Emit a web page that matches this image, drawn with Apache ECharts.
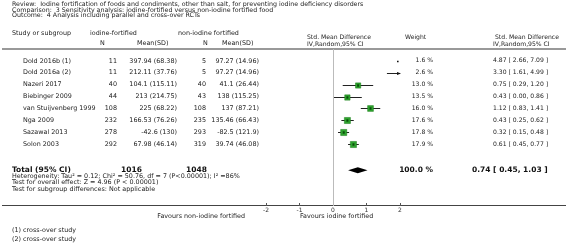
<!DOCTYPE html>
<html>
<head>
<meta charset="utf-8">
<script src="https://cdn.jsdelivr.net/npm/echarts@6/dist/echarts.min.js"></script>
<style>
  html, body { margin: 0; padding: 0; background: #fff; }
  #main { width: 566px; height: 250px; }
</style>
</head>
<body>
<div id="main"></div>
<script>
// studies (row order top to bottom)
const studies = ['Dold 2016b (1)', 'Dold 2016a (2)', 'Nazeri 2017', 'Biebinger 2009',
    'van Stuijvenberg 1999', 'Nga 2009', 'Sazawal 2013', 'Solon 2003'];
const fortN = [11, 11, 40, 44, 108, 232, 278, 292];
const fortMeanSD = ['397.94 (68.38)', '212.11 (37.76)', '104.1 (115.11)', '213 (214.75)',
    '225 (68.22)', '166.53 (76.26)', '-42.6 (130)', '67.98 (46.14)'];
const ctrlN = [5, 5, 40, 43, 108, 235, 293, 319];
const ctrlMeanSD = ['97.27 (14.96)', '97.27 (14.96)', '41.1 (26.44)', '138 (115.25)',
    '137 (87.21)', '135.46 (66.43)', '-82.5 (121.9)', '39.74 (46.08)'];
const weights = [1.6, 2.6, 13.0, 13.5, 16.0, 17.6, 17.8, 17.9];
const smd = [4.87, 3.30, 0.75, 0.43, 1.12, 0.43, 0.32, 0.61];
const ciLow = [2.66, 1.61, 0.29, 0.00, 0.83, 0.25, 0.15, 0.45];
const ciHigh = [7.09, 4.99, 1.20, 0.86, 1.41, 0.62, 0.48, 0.77];

// pooled result
const totalN = [1016, 1048];
const totalWeight = 100.0;
const totalSmd = [0.74, 0.45, 1.03];

const xTicks = [-2, -1, 0, 1, 2];

const totalRow = 9.2;
const font = '"DejaVu Sans", Verdana, sans-serif';
const txt = '#222';
const fs = 6.4;   // left table text
const fsR = 6.1;  // right columns

let chart = echarts.init(document.getElementById('main'));

function fmtCI(e, l, h) {
    return e.toFixed(2) + ' [ ' + l.toFixed(2) + ', ' + h.toFixed(2) + ' ]';
}

// table text for each study row
function renderRowText(params, api) {
    let i = params.dataIndex;
    let y = api.coord([0, i])[1];
    let t = (text, x, align, size) => ({
        type: 'text',
        style: { text: text, x: x, y: y, align: align, verticalAlign: 'middle',
            fontSize: size || fs, fontFamily: font, fill: txt }
    });
    return {
        type: 'group',
        children: [
            t(studies[i], 23, 'left'),
            t(String(fortN[i]), 117, 'right'),
            t(fortMeanSD[i], 177, 'right'),
            t(String(ctrlN[i]), 206, 'right'),
            t(ctrlMeanSD[i], 259, 'right'),
            t(weights[i].toFixed(1) + ' %', 433, 'right', fsR),
            t(fmtCI(smd[i], ciLow[i], ciHigh[i]), 493, 'left', fsR)
        ]
    };
}

function renderTotalText(params, api) {
    let y = api.coord([0, totalRow])[1];
    let t = (text, x, align) => ({
        type: 'text',
        style: { text: text, x: x, y: y, align: align, verticalAlign: 'middle',
            fontSize: 7.5, fontWeight: 'bold', fontFamily: font, fill: '#111' }
    });
    return {
        type: 'group',
        children: [
            t('Total (95% CI)', 12, 'left'),
            t(String(totalN[0]), 121, 'left'),
            t(String(totalN[1]), 186, 'left'),
            t(totalWeight.toFixed(1) + ' %', 433, 'right'),
            t(fmtCI(totalSmd[0], totalSmd[1], totalSmd[2]), 472, 'left')
        ]
    };
}

// CI line + weighted square
function renderStudy(params, api) {
    let est = api.value(0), lo = api.value(1), hi = api.value(2), w = api.value(3), row = api.value(4);
    let xMin = xTicks[0], xMax = xTicks[xTicks.length - 1];
    let y = Math.round(api.coord([0, row])[1]) + 0.5;
    let px = v => api.coord([v, row])[0];
    let children = [];
    if (lo > xMax) {
        children.push({ type: 'rect', shape: { x: px(xMax) - 3, y: y - 0.8, width: 1.6, height: 1.6 },
            style: { fill: '#111' } });
        return { type: 'group', children: children };
    }
    let x1 = px(Math.max(lo, xMin)), x2 = px(Math.min(hi, xMax));
    children.push({ type: 'line', shape: { x1: x1, y1: y, x2: x2, y2: y },
        style: { stroke: '#222', lineWidth: 1 } });
    if (hi > xMax) {
        children.push({ type: 'polygon', shape: { points: [[x2 + 1, y], [x2 - 3, y - 1.6], [x2 - 3, y + 1.6]] },
            style: { fill: '#111' } });
    }
    if (est >= xMin && est <= xMax) {
        let s = Math.sqrt(w) * 1.45;
        let cx = px(est);
        children.push({ type: 'rect', shape: { x: cx - s / 2, y: y - s / 2, width: s, height: s },
            style: { fill: '#2ea32e', stroke: '#1b7d1b', lineWidth: 0.5 } });
        children.push({ type: 'rect', shape: { x: cx - 1, y: y - 1.2, width: 2, height: 2.4 },
            style: { fill: '#0b4d0b' } });
    }
    return { type: 'group', children: children };
}

function renderDiamond(params, api) {
    let row = api.value(3);
    let y = api.coord([0, row])[1];
    let e = api.coord([api.value(0), row])[0];
    let l = api.coord([api.value(1), row])[0];
    let h = api.coord([api.value(2), row])[0];
    return {
        type: 'polygon',
        shape: { points: [[l, y], [e, y - 3], [h, y], [e, y + 3]] },
        style: { fill: '#000' }
    };
}

let studyData = studies.map((s, i) => [smd[i], ciLow[i], ciHigh[i], weights[i], i]);

let g = (text, x, y, size, align) => ({
    type: 'text', x: x, y: y,
    style: { text: text, fontSize: size || fs, fontFamily: font, fill: txt,
        align: align || 'left', verticalAlign: 'middle' }
});

let option = {
    animation: false,
    grid: { left: 266, width: 134, top: 49, height: 157 },
    xAxis: {
        type: 'value', min: xTicks[0], max: xTicks[xTicks.length - 1], interval: 1,
        position: 'bottom',
        axisLine: { show: false, onZero: false },
        axisTick: { show: true, inside: true, length: 3, lineStyle: { color: '#555' } },
        axisLabel: { fontSize: 6, fontFamily: font, color: '#333', margin: 1 },
        splitLine: { show: false }
    },
    yAxis: { type: 'value', min: -1, max: 12.2, inverse: true, show: false,
        axisLine: { show: false, onZero: false } },
    graphic: [
        g('Review:  Iodine fortification of foods and condiments, other than salt, for preventing iodine deficiency disorders', 12, 4.5, 6.3),
        g('Comparison:  3 Sensitivity analysis: iodine-fortified versus non-iodine fortified food', 12, 10, 6.3),
        g('Outcome:  4 Analysis including parallel and cross-over RCTs', 12, 15.5, 6.3),
        g('Study or subgroup', 12, 33),
        g('iodine-fortified', 90, 33),
        g('N', 100, 43),
        g('Mean(SD)', 137, 43),
        g('non-iodine fortified', 178, 33),
        g('N', 203, 43),
        g('Mean(SD)', 222, 43),
        g('Std. Mean Difference', 307, 37, fsR),
        g('IV,Random,95% CI', 307, 44, fsR),
        g('Weight', 405, 37, fsR),
        g('Std. Mean Difference', 495, 37, fsR),
        g('IV,Random,95% CI', 493, 44, fsR),
        g('Heterogeneity: Tau² = 0.12; Chi² = 50.76, df = 7 (P<0.00001); I² =86%', 12, 176.5),
        g('Test for overall effect: Z = 4.96 (P < 0.00001)', 12, 182.5),
        g('Test for subgroup differences: Not applicable', 12, 189),
        g('Favours non-iodine fortified', 245, 216, fs, 'right'),
        g('Favours iodine fortified', 300, 216),
        g('(1) cross-over study', 12, 230),
        g('(2) cross-over study', 12, 239),
        { type: 'rect', shape: { x: 2, y: 48, width: 564, height: 2 }, style: { fill: '#999' } },
        { type: 'line', shape: { x1: 2, y1: 205.5, x2: 566, y2: 205.5 }, style: { stroke: '#444', lineWidth: 1 } }
    ],
    series: [
        {
            type: 'custom', renderItem: renderStudy, data: studyData, z: 3,
            markLine: {
                silent: true, symbol: 'none', label: { show: false },
                lineStyle: { color: '#bbb', width: 1, type: 'solid' },
                data: [{ xAxis: 0 }]
            }
        },
        { type: 'custom', renderItem: renderDiamond, data: [[totalSmd[0], totalSmd[1], totalSmd[2], totalRow]], z: 3 },
        { type: 'custom', renderItem: renderRowText, data: studies.map((s, i) => [0, i]) },
        { type: 'custom', renderItem: renderTotalText, data: [[0, totalRow]] }
    ]
};
chart.setOption(option);
</script>
</body>
</html>
